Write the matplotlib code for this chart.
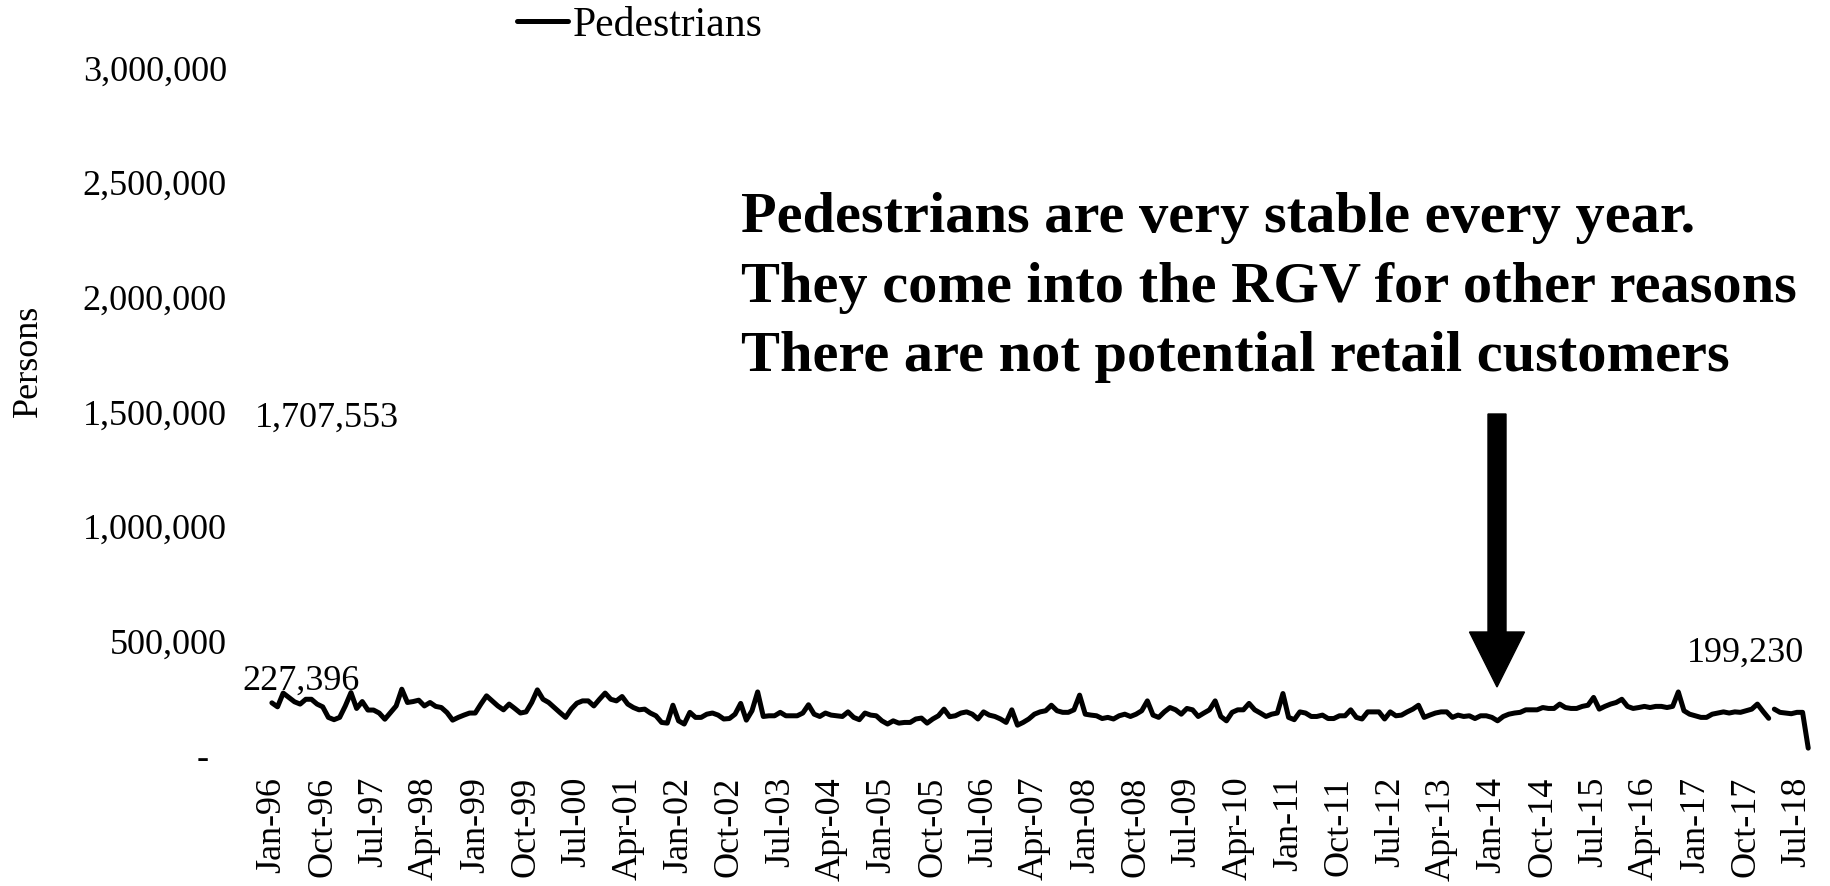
import numpy as np
import pandas as pd
import matplotlib
matplotlib.use("Agg")
import matplotlib.pyplot as plt
from matplotlib.ticker import FuncFormatter, FixedLocator
from matplotlib.patches import FancyArrow

plt.rcParams['font.family'] = ['Liberation Serif', 'DejaVu Serif']

# monthly pedestrian crossings, Jan-96 onwards (thousands)
pedestrians_k = [
    227.396, 210, 270, 251, 232, 222, 243, 243, 222, 210, 164, 154, 164, 214, 272, 203,
    233, 196, 196, 183, 156, 185, 214, 287, 229, 233, 239, 214, 229, 212, 207, 185,
    152, 164, 174, 183, 183, 222, 258, 236, 214, 197, 222, 203, 183, 188, 229, 284,
    243, 229, 207, 185, 164, 200, 226, 236, 236, 214, 243, 270, 243, 236, 255, 222,
    207, 197, 200,
    183, 171, 142, 139, 217, 149, 135, 186, 164, 164, 178, 183, 174, 157, 159, 178,
    225, 152, 193, 275, 168, 171, 171, 186, 171, 171, 171, 183, 219, 178, 168, 183,
    174, 171, 168, 188, 164, 154, 183, 174, 171, 149, 135, 149, 139, 142, 142, 157,
    161, 139, 157, 171, 200, 167, 171, 183, 188, 178, 157, 188, 174, 168, 157, 142,
    197, 130, 142, 157, 178, 188, 193, 217, 193,
    186, 186, 197, 261, 178, 174, 171, 159, 164, 157, 171, 178, 168, 178, 193, 236,
    174, 164, 188, 207, 197, 178, 203, 197, 168, 183, 197, 236, 168, 149, 186, 197,
    197, 225, 197, 183, 168, 178, 183, 268, 164, 154, 188, 183, 168, 168, 174, 159,
    159, 171, 171, 197, 164, 157, 188, 188, 188, 157, 188, 171, 174, 188, 200, 217,
    164, 174, 183, 188, 188, 164, 174, 168,
    171, 159, 171, 171, 164, 149, 168, 178, 183, 186, 197, 197, 197, 207, 203, 203,
    222, 207, 203, 203, 212, 217, 251, 200, 212, 222, 229, 243, 212, 203, 207, 212,
    207, 212, 212, 207, 212, 275, 193, 178, 171, 164, 164, 178, 183, 188, 183, 188,
    186, 193, 200, 222, 190, 160,
    200, 186, 183, 180, 186, 186, 30,
]
pedestrians = np.array(pedestrians_k) * 1000
break_after = 265  # line is not joined between these two months

months = pd.date_range('1996-01-01', periods=len(pedestrians), freq='MS')
month_labels = months.strftime('%b-%y')
tick_step = 9

y_ticks = [0, 500000, 1000000, 1500000, 2000000, 2500000, 3000000]

label_texts = ["227,396", "1,707,553", "199,230"]
note_lines = [
    "Pedestrians are very stable every year.",
    "They come into the RGV for other reasons",
    "There are not potential retail customers",
]

W, H = 1830, 887
fig = plt.figure(figsize=(W / 100, H / 100), dpi=100)
ax = fig.add_axes([238 / W, 131 / H, 1578.7 / W, 688 / H])

x = np.arange(len(pedestrians))
line_kw = dict(color='black', lw=3.6, solid_joinstyle='round', solid_capstyle='round')
ln, = ax.plot(x[:break_after + 1], pedestrians[:break_after + 1], label='Pedestrians', **line_kw)
ax.plot(x[break_after + 1:], pedestrians[break_after + 1:], **line_kw)

ax.set_xlim(-6, 273.5)
ax.set_ylim(0, 3000000)

tick_pos = x[::tick_step]
ax.xaxis.set_major_locator(FixedLocator(tick_pos))
ax.set_xticklabels(month_labels[::tick_step], rotation=90, fontsize=26)
ax.yaxis.set_major_locator(FixedLocator(y_ticks))
ax.yaxis.set_major_formatter(FuncFormatter(lambda v, p: '-  ' if v == 0 else f'{v:,.0f}'))
ax.tick_params(axis='y', labelsize=26, length=0, pad=8)
ax.tick_params(axis='x', length=0, pad=15)
for s in ax.spines.values():
    s.set_visible(False)

ax.set_ylabel('Persons', fontsize=26)
ax.yaxis.set_label_coords(-0.122, 0.574)

fig.legend(handles=[ln], loc='center left', bbox_to_anchor=(517 / W, 1 - 26 / H),
           frameon=False, borderpad=0, borderaxespad=0, handlelength=1.22,
           handletextpad=0.12, fontsize=30)

# data labels
fig.text(242 / W, 1 - 690 / H, label_texts[0], fontsize=26, va='baseline')
fig.text(255 / W, 1 - 427 / H, label_texts[1], fontsize=26, va='baseline')
fig.text(1687 / W, 1 - 662 / H, label_texts[2], fontsize=26, va='baseline')

# note text
for k, line in enumerate(note_lines):
    fig.text(741 / W, 1 - (232 + 69.5 * k) / H, line, fontsize=42,
             fontweight='bold', va='baseline')

# arrow pointing at the series
arrow = FancyArrow(14.97, (H - 415) / 100, 0, -(688 - 415) / 100, width=0.18,
                   head_width=0.55, head_length=0.55, length_includes_head=True,
                   color='black', transform=fig.dpi_scale_trans)
fig.add_artist(arrow)

fig.savefig('out.png', dpi=100)
